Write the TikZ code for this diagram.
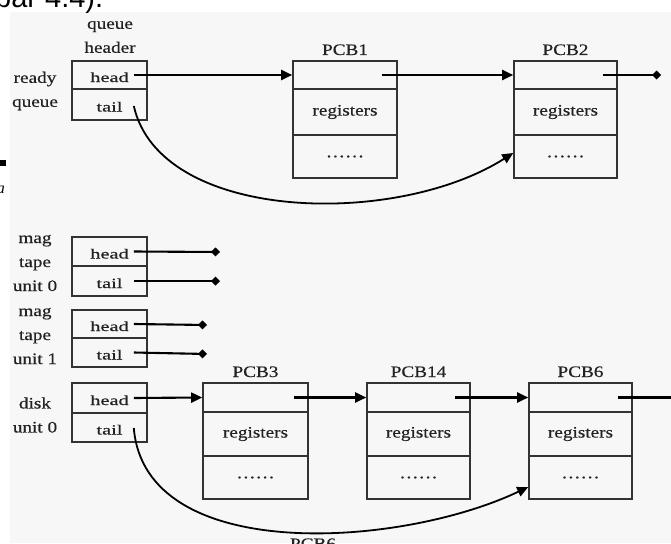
\documentclass[tikz,border=0pt]{standalone}
\usepackage{fontspec}
\setmainfont{Liberation Serif}
\setsansfont{Liberation Sans}
\newfontfamily\lblfont[FakeStretch=1.2,FakeBold=0.4]{Liberation Serif}
\newfontfamily\cellfont[FakeStretch=1.45,FakeBold=0.4]{Liberation Serif}
\newfontfamily\dotfont[FakeStretch=1.2,FakeBold=0.8,LetterSpace=10]{Liberation Serif}
\usetikzlibrary{arrows.meta}
\definecolor{boxline}{HTML}{333333}
\definecolor{bg}{HTML}{F7F7F7}
\definecolor{ink}{HTML}{222222}
\tikzset{
  lbl/.style={font=\lblfont\fontsize{16}{24}\selectfont, text=ink, align=center, inner sep=0pt},
  cell/.style={draw=boxline, line width=1.6pt, inner sep=0pt, minimum width=75pt, text=ink,
     font=\cellfont\fontsize{14}{16}\selectfont, text height=14pt, text depth=0pt},
  pcbcell/.style={draw=boxline, line width=1.6pt, inner sep=0pt, minimum width=104pt, text=ink,
     font=\lblfont\fontsize{16}{18}\selectfont},
  dotcell/.style={pcbcell, font=\dotfont\fontsize{16}{18}\selectfont},
  ptr/.style={line width=2.1pt, -{Triangle[length=11pt,width=10pt]}},
  nilptr/.style={line width=2.1pt, -{Diamond[length=9pt,width=9pt]}},
  tailptr/.style={line width=1.8pt, -{Triangle[length=11pt,width=10pt]}},
}
\begin{document}
\begin{tikzpicture}[x=1pt,y=-1pt]
\useasboundingbox (0,0) rectangle (671,543);
\clip (0,0) rectangle (671,543);
\fill[bg] (10,12) rectangle (671,543);
% page artifacts
\node[font=\sffamily\fontsize{29}{30}\selectfont, anchor=base west, inner sep=0pt] (pagetext) at (-5,8) {bar 4.4).};
\fill[black] (0,160) rectangle (6,166);
\node[font=\itshape\fontsize{16}{18}\selectfont, anchor=base, inner sep=0pt] (pagea) at (1,193) {a};
\node[lbl, anchor=base] (pcbcut) at (313,549) {PCB6};

% ready queue header
\node[lbl] (qh) at (110,37) {queue\\header};
\node[lbl] (rqlbl) at (35,91) {ready\\queue};
\node[cell, minimum height=28pt] (rqh) at (109.5,75) {head};
\node[cell, minimum height=31pt] (rqt) at (109.5,104.5) {tail};

% PCB1
\node[lbl, anchor=base] (p1t) at (345,55) {PCB1};
\node[pcbcell, minimum height=28pt] (p1a) at (345,75) {};
\node[pcbcell, minimum height=46pt] (p1b) at (345,112) {registers};
\node[dotcell, minimum height=43pt] (p1c) at (345,156.5) {......};
% PCB2
\node[lbl, anchor=base] (p2t) at (565.5,55) {PCB2};
\node[pcbcell, minimum width=103pt, minimum height=28pt] (p2a) at (565.5,75) {};
\node[pcbcell, minimum width=103pt, minimum height=46pt] (p2b) at (565.5,112) {registers};
\node[dotcell, minimum width=103pt, minimum height=43pt] (p2c) at (565.5,156.5) {......};
\coordinate (p2end) at (661,75);

\draw[ptr] ([xshift=-14pt]rqh.east) -- (p1a.west);
\draw[ptr] ([xshift=-16pt]p1a.east) -- (p2a.west);
\draw[nilptr] ([xshift=-15pt]p2a.east) -- (p2end);
\draw[tailptr] ([xshift=-14pt,yshift=-1.5pt]rqt.east) .. controls (160,222) and (395,228) .. ([yshift=3.5pt]p2c.west);

% mag tape unit 0
\node[lbl] (m0lbl) at (35,263) {mag\\tape\\unit 0};
\node[cell, minimum height=29pt] (m0h) at (109.5,251.5) {head};
\node[cell, minimum height=30pt] (m0t) at (109.5,281) {tail};
\coordinate (m0hend) at (220,252);
\coordinate (m0tend) at (220,281);
\draw[nilptr] ([xshift=-14pt]m0h.east) -- (m0hend);
\draw[nilptr] ([xshift=-14pt]m0t.east) -- (m0tend);

% mag tape unit 1
\node[lbl] (m1lbl) at (35,336) {mag\\tape\\unit 1};
\node[cell, minimum height=28pt] (m1h) at (109.5,324) {head};
\node[cell, minimum height=29pt] (m1t) at (109.5,352.5) {tail};
\coordinate (m1hend) at (207,325);
\coordinate (m1tend) at (207,354);
\draw[nilptr] ([xshift=-14pt]m1h.east) -- (m1hend);
\draw[nilptr] ([xshift=-14pt]m1t.east) -- (m1tend);

% disk unit 0
\node[lbl] (dlbl) at (35,415) {disk\\unit 0};
\node[cell, minimum height=30pt] (dh) at (109.5,398) {head};
\node[cell, minimum height=29pt] (dt) at (109.5,427.5) {tail};

% PCB3
\node[lbl, anchor=base] (p3t) at (255.5,377) {PCB3};
\node[pcbcell, minimum width=105pt, minimum height=29pt] (p3a) at (255.5,397.5) {};
\node[pcbcell, minimum width=105pt, minimum height=44pt] (p3b) at (255.5,434) {registers};
\node[dotcell, minimum width=105pt, minimum height=43pt] (p3c) at (255.5,477.5) {......};
% PCB14
\node[lbl, anchor=base] (p14t) at (418.5,377) {PCB14};
\node[pcbcell, minimum width=103pt, minimum height=29pt] (p14a) at (418.5,397.5) {};
\node[pcbcell, minimum width=103pt, minimum height=44pt] (p14b) at (418.5,434) {registers};
\node[dotcell, minimum width=103pt, minimum height=43pt] (p14c) at (418.5,477.5) {......};
% PCB6
\node[lbl, anchor=base] (p6t) at (580.5,377) {PCB6};
\node[pcbcell, minimum width=103pt, minimum height=29pt] (p6a) at (580.5,397.5) {};
\node[pcbcell, minimum width=103pt, minimum height=44pt] (p6b) at (580.5,434) {registers};
\node[dotcell, minimum width=103pt, minimum height=43pt] (p6c) at (580.5,477.5) {......};
\coordinate (p6end) at (672,397.5);

\draw[ptr] ([xshift=-14pt]dh.east) -- (p3a.west);
\draw[ptr] ([xshift=-15pt]p3a.east) -- (p14a.west);
\draw[ptr] ([xshift=-16pt]p14a.east) -- (p6a.west);
\draw[line width=2.1pt] ([xshift=-15pt]p6a.east) -- (p6end);
\draw[tailptr] ([xshift=-14pt,yshift=-0.5pt]dt.east) .. controls (145,565) and (400,548) .. ([yshift=-9.5pt]p6c.west);
\end{tikzpicture}
\end{document}
